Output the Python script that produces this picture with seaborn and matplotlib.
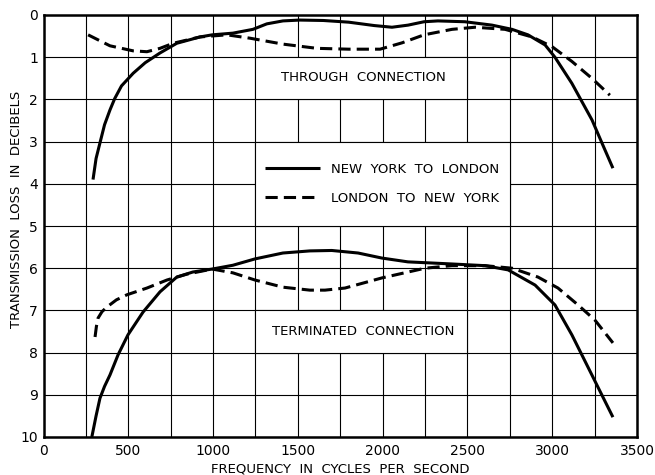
import seaborn as sns
import matplotlib.pyplot as plt
from matplotlib.patches import Rectangle
from matplotlib.ticker import MultipleLocator

# through connection, New York to London (solid)
freq_thru_nyl = [292, 310, 333, 360, 392, 420, 460, 529, 600, 687, 786, 923, 995, 1117, 1235, 1317,
                 1412, 1512, 1650, 1800, 1950, 2055, 2150, 2244, 2326, 2485, 2645, 2763, 2857,
                 2958, 3016, 3116, 3235, 3294, 3358]
loss_thru_nyl = [3.9, 3.4, 3.03, 2.6, 2.25, 1.98, 1.68, 1.38, 1.13, 0.9, 0.67, 0.52, 0.47, 0.43, 0.34, 0.21,
                 0.14, 0.12, 0.13, 0.17, 0.25, 0.29, 0.24, 0.16, 0.14, 0.16, 0.24, 0.34, 0.47,
                 0.71, 1.0, 1.62, 2.49, 3.04, 3.63]

# through connection, London to New York (dashed)
freq_thru_lny = [263, 392, 529, 610, 687, 765, 923, 1082, 1218, 1412, 1612, 1800, 1985, 2114,
                 2244, 2409, 2545, 2722, 2881, 2999, 3116, 3234, 3340]
loss_thru_lny = [0.47, 0.73, 0.85, 0.87, 0.79, 0.67, 0.52, 0.47, 0.55, 0.69, 0.79, 0.81, 0.81, 0.66,
                 0.47, 0.34, 0.29, 0.34, 0.52, 0.75, 1.1, 1.5, 1.9]

# terminated connection, New York to London (solid)
freq_term_nyl = [285, 310, 333, 360, 392, 440, 498, 587, 687, 786, 881, 995, 1117, 1247, 1412,
                 1571, 1700, 1855, 1996, 2149, 2409, 2604, 2740, 2899, 3016, 3116, 3234, 3358]
loss_term_nyl = [10.0, 9.5, 9.08, 8.8, 8.53, 8.05, 7.58, 7.04, 6.56, 6.21, 6.09, 6.02, 5.93, 5.78, 5.64,
                 5.59, 5.58, 5.64, 5.76, 5.85, 5.9, 5.94, 6.04, 6.4, 6.87, 7.58, 8.53, 9.53]

# terminated connection, London to New York (dashed)
freq_term_lny = [304, 312, 322, 345, 374, 430, 492, 610, 728, 846, 995, 1117, 1247, 1412, 1571,
                 1660, 1778, 1996, 2250, 2409, 2604, 2763, 2916, 3034, 3152, 3252, 3358]
loss_term_lny = [7.63, 7.38, 7.18, 7.03, 6.92, 6.75, 6.63, 6.47, 6.28, 6.14, 6.02, 6.11, 6.28, 6.45, 6.52,
                 6.52, 6.47, 6.23, 6.0, 5.94, 5.94, 6.0, 6.21, 6.47, 6.87, 7.23, 7.77]

x_ticks = [0, 500, 1000, 1500, 2000, 2500, 3000, 3500]
y_ticks = list(range(0, 11))

sns.set_theme(style="white")
plt.rcParams['font.family'] = ['DejaVu Sans']
plt.rcParams['text.color'] = 'black'
plt.rcParams['axes.labelcolor'] = 'black'
plt.rcParams['xtick.color'] = 'black'
plt.rcParams['ytick.color'] = 'black'

fig = plt.figure(figsize=(6.55, 4.75), dpi=100)
ax = fig.add_axes([43.5 / 655, 1 - 437 / 475, (637 - 43.5) / 655, (437 - 15) / 475])

solid = dict(color="black", lw=2.2, solid_capstyle="butt", zorder=3)
dash = dict(color="black", lw=2.2, linestyle=(0, (4, 2)), zorder=3)

sns.lineplot(x=freq_thru_nyl, y=loss_thru_nyl, ax=ax, sort=False, estimator=None,
             label="NEW YORK TO LONDON", **solid)
sns.lineplot(x=freq_thru_lny, y=loss_thru_lny, ax=ax, sort=False, estimator=None,
             label="LONDON TO NEW YORK", **dash)
sns.lineplot(x=freq_term_nyl, y=loss_term_nyl, ax=ax, sort=False, estimator=None, **solid)
sns.lineplot(x=freq_term_lny, y=loss_term_lny, ax=ax, sort=False, estimator=None, **dash)

# white panels behind the labels (grid is blanked there)
for (x0, y0, w, h) in [(1250, 1, 1250, 1), (1250, 3, 1500, 2), (1250, 7, 1250, 1)]:
    ax.add_patch(Rectangle((x0, y0), w, h, facecolor="white", edgecolor="black", lw=0.8, zorder=1))

ax.text(1885, 1.47, "THROUGH  CONNECTION", ha="center", va="center", fontsize=9.5)
ax.text(1885, 7.5, "TERMINATED  CONNECTION", ha="center", va="center", fontsize=9.5)

h, l = ax.get_legend_handles_labels()
ax.legend(h[:2], ["NEW  YORK  TO  LONDON", "LONDON  TO  NEW  YORK"], loc="center left",
          bbox_to_anchor=(1306, 4.0), bbox_transform=ax.transData, frameon=False,
          handlelength=4.2, handletextpad=0.8, labelspacing=1.2, borderpad=0,
          borderaxespad=0, fontsize=9.5)

ax.set_xlim(0, 3500)
ax.set_ylim(10, 0)
ax.set_xticks(x_ticks)
ax.set_yticks(y_ticks)
ax.xaxis.set_minor_locator(MultipleLocator(250))
ax.set_axisbelow(True)
ax.grid(which="both", color="black", lw=0.8)
ax.tick_params(which="both", length=0)
ax.tick_params(axis="x", pad=5, labelsize=10)
ax.tick_params(axis="y", pad=4, labelsize=10)
for s in ax.spines.values():
    s.set_color("black")
    s.set_linewidth(1.8)

ax.set_xlabel("FREQUENCY  IN  CYCLES  PER  SECOND", fontsize=9.5, labelpad=3)
ax.set_ylabel("TRANSMISSION  LOSS  IN  DECIBELS", fontsize=9.5)
ax.yaxis.set_label_coords(-0.035, 0.54)

plt.savefig("out.png", dpi=100)
